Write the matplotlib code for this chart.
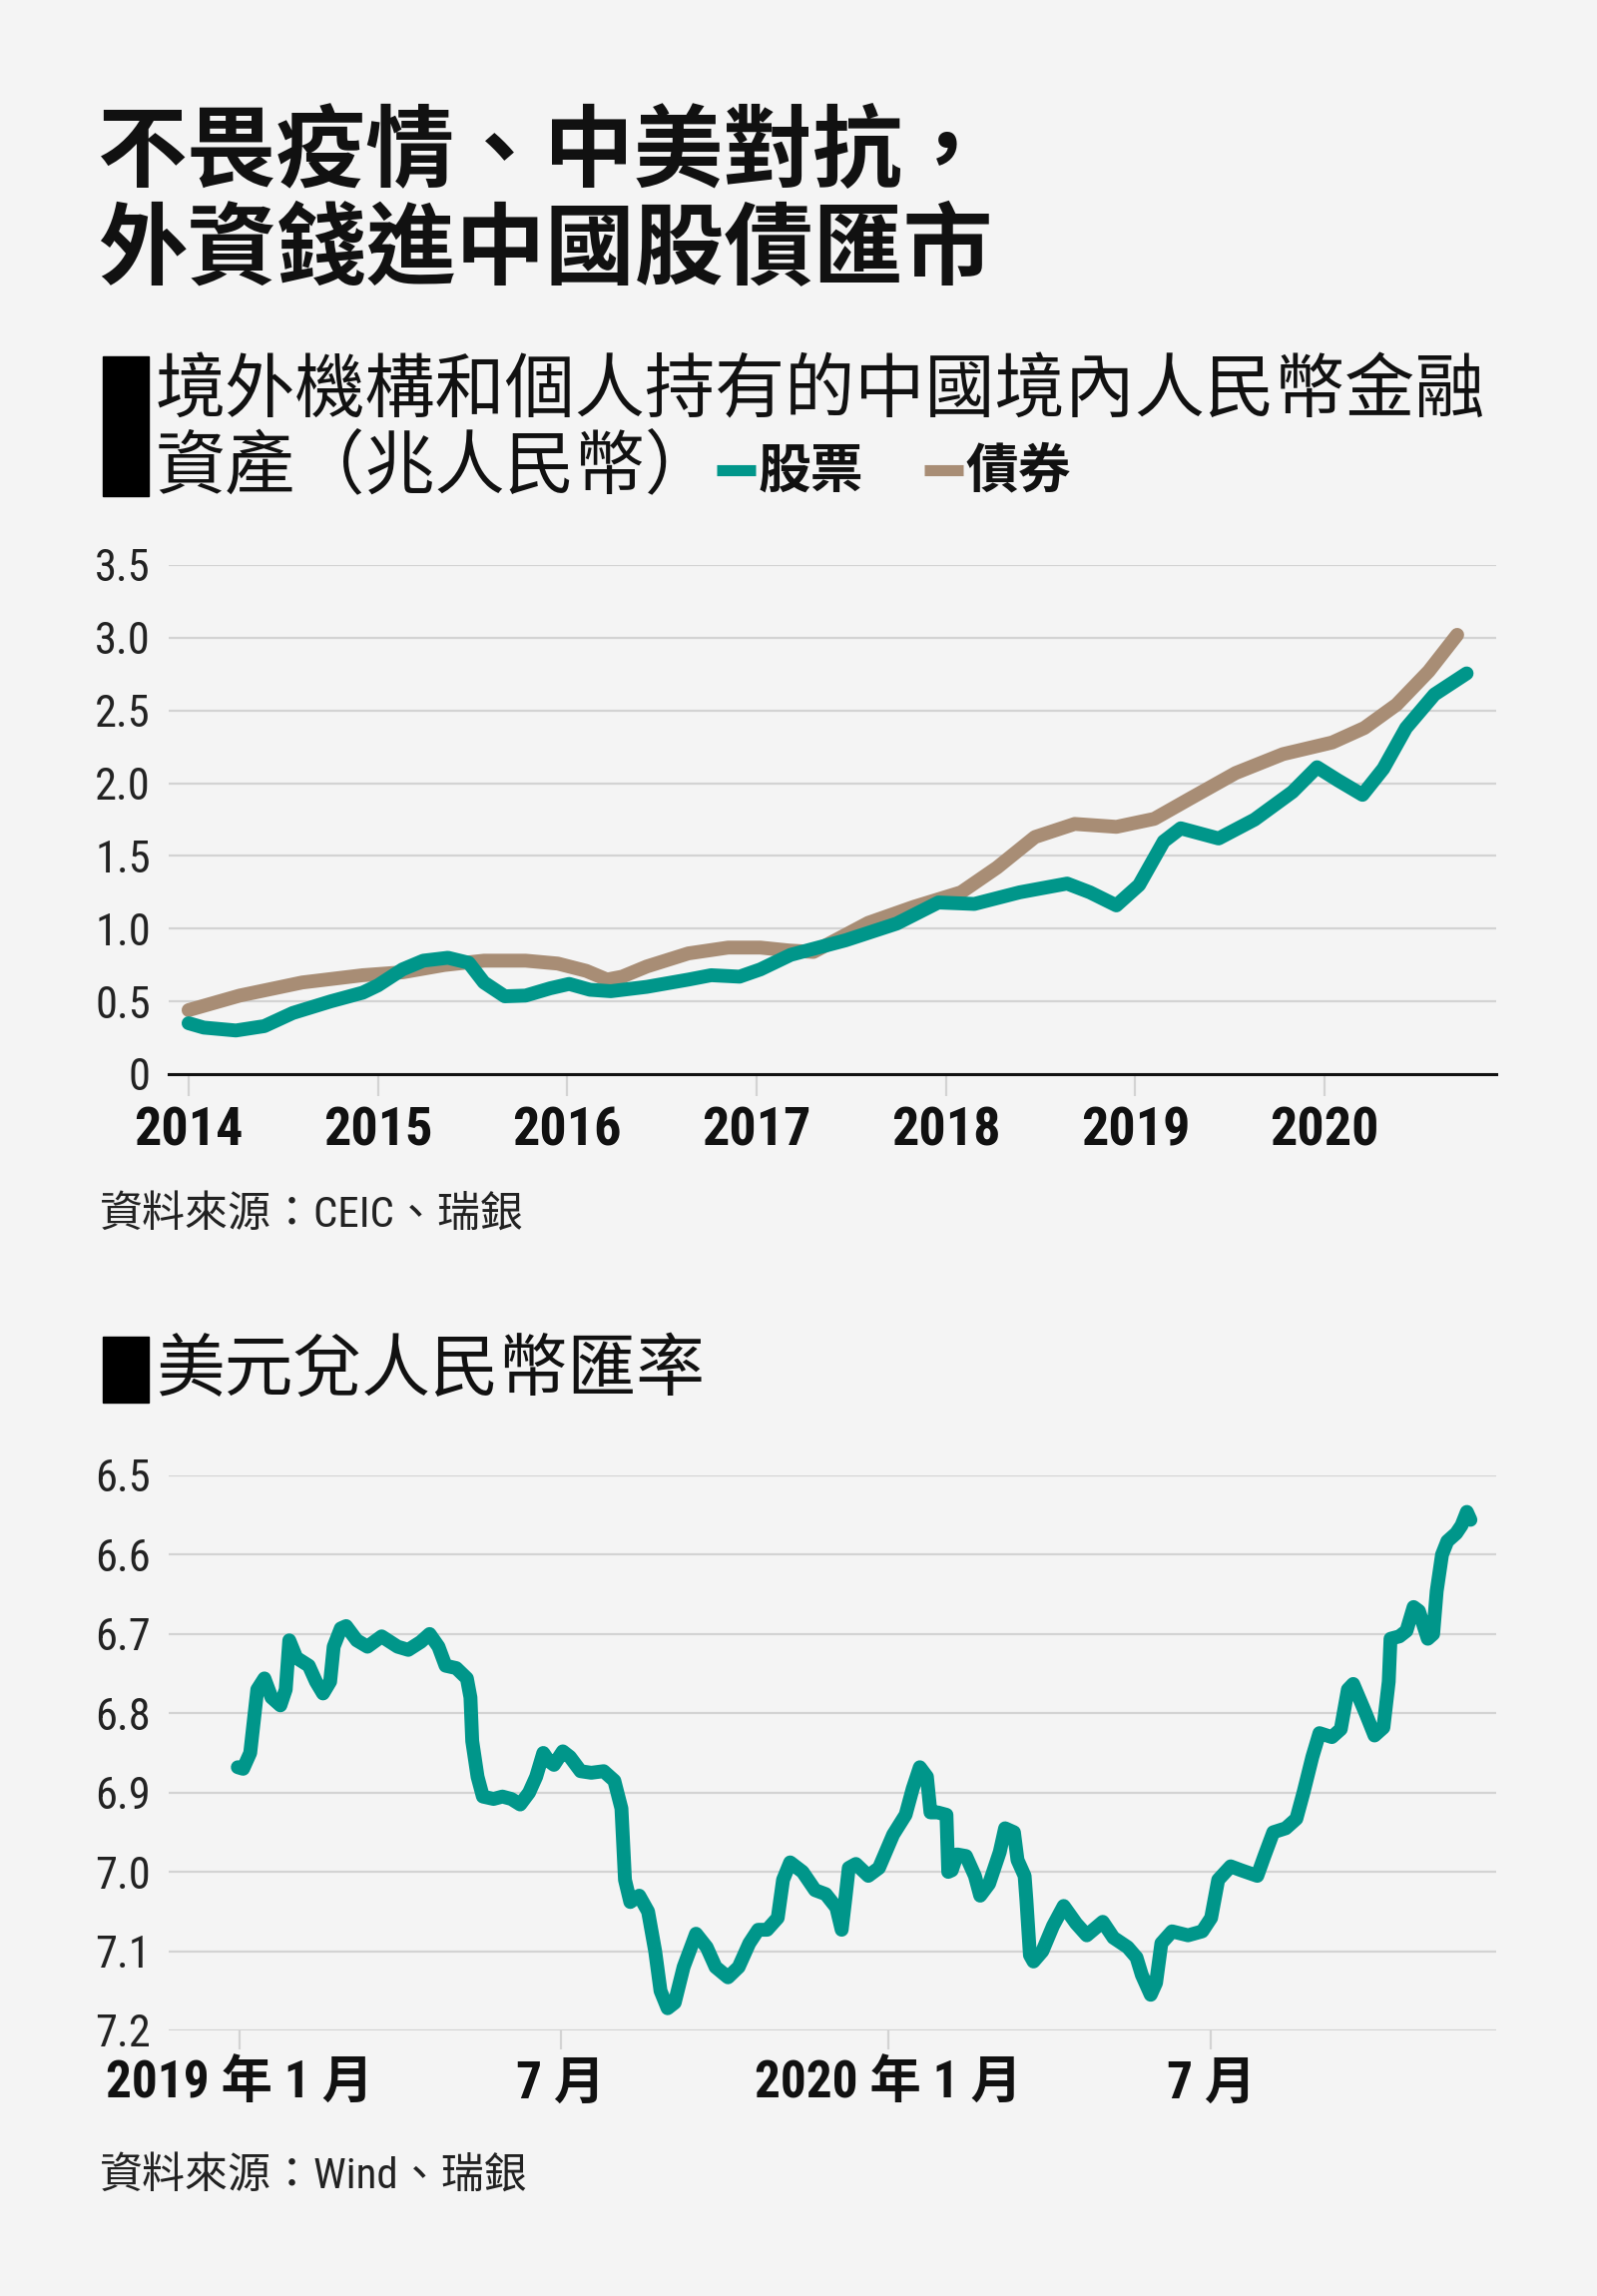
import numpy as np
import pandas as pd
import matplotlib
matplotlib.use('Agg')
import matplotlib.pyplot as plt
from matplotlib import font_manager as fm
from matplotlib.lines import Line2D
from matplotlib.patches import Rectangle

# ---------------- data ----------------
# Chart 1: foreign holdings of onshore RMB financial assets (trillion RMB)
stock_t = [2014.00, 2014.08, 2014.25, 2014.40, 2014.55, 2014.75, 2014.92, 2015.00, 2015.13,
           2015.24, 2015.37, 2015.48, 2015.56, 2015.67, 2015.78, 2015.91, 2016.01, 2016.12,
           2016.23, 2016.42, 2016.64, 2016.76, 2016.91, 2017.02, 2017.18, 2017.47, 2017.74,
           2017.96, 2018.15, 2018.39, 2018.64, 2018.76, 2018.90, 2019.02, 2019.15, 2019.24,
           2019.44, 2019.63, 2019.83, 2019.96, 2020.07, 2020.20, 2020.31, 2020.43, 2020.58,
           2020.75]
stock_v = [0.35, 0.32, 0.30, 0.33, 0.42, 0.50, 0.56, 0.61, 0.72,
           0.78, 0.80, 0.765, 0.63, 0.535, 0.54, 0.59, 0.62, 0.58,
           0.57, 0.60, 0.65, 0.68, 0.67, 0.72, 0.82, 0.92, 1.035,
           1.18, 1.17, 1.25, 1.31, 1.25, 1.16, 1.30, 1.60, 1.69,
           1.62, 1.75, 1.94, 2.11, 2.02, 1.92, 2.10, 2.38, 2.61,
           2.755]
bond_t = [2014.00, 2014.27, 2014.60, 2014.92, 2015.13, 2015.35, 2015.56, 2015.78, 2015.95,
          2016.10, 2016.21, 2016.29, 2016.42, 2016.64, 2016.85, 2017.02, 2017.17, 2017.30,
          2017.59, 2017.83, 2018.08, 2018.27, 2018.47, 2018.68, 2018.90, 2019.10, 2019.29,
          2019.53, 2019.78, 2020.04, 2020.21, 2020.38, 2020.55, 2020.70]
bond_v = [0.44, 0.54, 0.63, 0.68, 0.70, 0.75, 0.78, 0.78, 0.76,
          0.71, 0.65, 0.67, 0.74, 0.83, 0.87, 0.87, 0.85, 0.84,
          1.04, 1.15, 1.25, 1.42, 1.63, 1.72, 1.70, 1.755, 1.895,
          2.07, 2.20, 2.28, 2.38, 2.54, 2.77, 3.02]
year_ticks = [2014, 2015, 2016, 2017, 2018, 2019, 2020]
year_labels = ['2014', '2015', '2016', '2017', '2018', '2019', '2020']
y1_ticks = [0, 0.5, 1.0, 1.5, 2.0, 2.5, 3.0, 3.5]
y1_labels = ['0', '0.5', '1.0', '1.5', '2.0', '2.5', '3.0', '3.5']

# Chart 2: USD/CNY, x = days since 2019-01-01
fx_days = [-1, 2, 6, 10, 14, 18, 23, 26, 28, 32, 39, 43, 47, 51, 53, 57, 60, 66, 72, 80,
           89, 95, 102, 107, 112, 116, 122, 128, 130, 131, 134, 137, 143, 148, 153, 158,
           163, 167, 171, 174, 177, 182, 186, 192, 198, 205, 211, 215, 217, 220, 225, 230,
           234, 237, 241, 245, 250, 257, 263, 268, 275, 281, 287, 292, 297, 303, 306, 310,
           317, 324, 330, 336, 339, 341, 343, 347, 354, 360, 368, 375, 379, 383, 387, 389,
           393, 398, 399, 401, 404, 409, 414, 417, 422, 428, 431, 436, 438, 442, 443, 445,
           447, 452, 458, 464, 471, 477, 486, 492, 500, 505, 508, 513, 516, 519, 525, 534,
           542, 547, 551, 558, 564, 573, 577, 582, 589, 595, 599, 604, 608, 615, 620, 624,
           627, 634, 639, 644, 647, 648, 653, 657, 661, 664, 669, 672, 674, 677, 680, 685,
           688, 691, 693]
fx_vals = [6.868, 6.870, 6.850, 6.770, 6.756, 6.780, 6.790, 6.770, 6.708, 6.730, 6.740,
           6.760, 6.775, 6.760, 6.716, 6.693, 6.690, 6.708, 6.716, 6.703, 6.716, 6.720,
           6.710, 6.700, 6.716, 6.740, 6.743, 6.756, 6.780, 6.835, 6.880, 6.905, 6.908,
           6.905, 6.908, 6.915, 6.900, 6.880, 6.850, 6.860, 6.865, 6.848, 6.855, 6.873,
           6.875, 6.873, 6.885, 6.920, 7.010, 7.038, 7.030, 7.050, 7.100, 7.150, 7.172,
           7.165, 7.120, 7.078, 7.095, 7.120, 7.133, 7.120, 7.090, 7.073, 7.073, 7.058,
           7.010, 6.988, 7.000, 7.023, 7.028, 7.045, 7.073, 7.035, 6.995, 6.990, 7.005,
           6.995, 6.953, 6.928, 6.895, 6.868, 6.880, 6.925, 6.925, 6.928, 7.000, 6.998,
           6.978, 6.980, 7.005, 7.030, 7.015, 6.975, 6.945, 6.950, 6.985, 7.005, 7.035,
           7.105, 7.113, 7.100, 7.068, 7.043, 7.065, 7.080, 7.063, 7.083, 7.095, 7.108,
           7.130, 7.155, 7.140, 7.090, 7.075, 7.080, 7.075, 7.058, 7.010, 6.993, 6.998,
           7.005, 6.980, 6.950, 6.945, 6.933, 6.900, 6.855, 6.825, 6.830, 6.820, 6.770,
           6.763, 6.800, 6.828, 6.818, 6.760, 6.706, 6.703, 6.696, 6.666, 6.671, 6.706,
           6.700, 6.646, 6.600, 6.583, 6.573, 6.563, 6.546, 6.556]
fx_tick_dates = ['2019-01-01', '2019-07-01', '2020-01-01', '2020-07-01']
fx_tick_labels = ['2019 年 1 月', '7 月', '2020 年 1 月', '7 月']
y2_ticks = [6.5, 6.6, 6.7, 6.8, 6.9, 7.0, 7.1, 7.2]
y2_labels = ['6.5', '6.6', '6.7', '6.8', '6.9', '7.0', '7.1', '7.2']

# ---------------- style ----------------
names = {f.name for f in fm.fontManager.ttflist}
NARROW = next((n for n in ['Roboto Condensed', 'Liberation Sans Narrow', 'Open Sans Condensed']
               if n in names), 'DejaVu Sans')
CJK = 'Noto Sans CJK TC'
plt.rcParams['font.family'] = [NARROW, CJK, 'DejaVu Sans']

BG = '#f4f4f4'
TEAL = '#00968a'
TAN = '#a88d75'
GRID = '#d3d3d3'
INK = '#111111'
LW = 10

W, H = 1600, 2300
fig = plt.figure(figsize=(16, 23), dpi=100, facecolor=BG)


def fx(x):
    return x / W


def fy(y):
    return 1 - y / H


# ---------------- headings ----------------
fig.text(fx(98), fy(153), '不畏疫情、中美對抗，', fontsize=64.5, fontweight='bold',
         family=[CJK], va='center', ha='left', color=INK)
fig.text(fx(98), fy(251), '外資錢進中國股債匯市', fontsize=64.5, fontweight='bold',
         family=[CJK], va='center', ha='left', color=INK)

fig.add_artist(Rectangle((fx(103), fy(497)), (149 - 103) / W, (497 - 357) / H,
                         transform=fig.transFigure, color='black'))
fig.text(fx(156), fy(393), '境外機構和個人持有的中國境內人民幣金融', fontsize=50.5,
         family=[CJK], va='center', ha='left', color=INK)
fig.text(fx(156), fy(469), '資產（兆人民幣）', fontsize=50.5,
         family=[CJK], va='center', ha='left', color=INK)

fig.add_artist(Line2D([fx(718), fx(757)], [fy(471), fy(471)], color=TEAL, lw=8,
                      solid_capstyle='butt', transform=fig.transFigure))
fig.text(fx(760), fy(472), '股票', fontsize=38, fontweight='bold', family=[CJK],
         va='center', ha='left', color=INK)
fig.add_artist(Line2D([fx(926), fx(965)], [fy(471), fy(471)], color=TAN, lw=8,
                      solid_capstyle='butt', transform=fig.transFigure))
fig.text(fx(968), fy(472), '債券', fontsize=38, fontweight='bold', family=[CJK],
         va='center', ha='left', color=INK)

# ---------------- chart 1 ----------------
ax1 = fig.add_axes([fx(169), fy(1076), (1499 - 169) / W, (1076 - 566) / H])
ax1.set_facecolor('none')
ax1.plot(bond_t, bond_v, color=TAN, lw=LW, solid_capstyle='round', solid_joinstyle='round', zorder=3)
ax1.plot(stock_t, stock_v, color=TEAL, lw=LW, solid_capstyle='round', solid_joinstyle='round', zorder=4)
ax1.set_xlim(2013.895, 2020.906)
ax1.set_ylim(0, 3.5)
ax1.set_yticks(y1_ticks)
ax1.set_yticklabels(y1_labels)
ax1.set_xticks(year_ticks)
ax1.set_xticklabels(year_labels, fontweight='bold')
for s in ax1.spines.values():
    s.set_visible(False)
ax1.grid(axis='y', color=GRID, lw=1.6, zorder=1)
ax1.set_axisbelow(True)
ax1.axhline(0, color=INK, lw=2.2, zorder=2, clip_on=False)
ax1.tick_params(axis='y', length=0, pad=13, labelsize=32, labelcolor='#222222')
ax1.tick_params(axis='x', length=16, width=1.6, color=GRID, pad=7, labelsize=39,
                labelcolor=INK)

fig.text(fx(100), fy(1217), '資料來源：CEIC、瑞銀', fontsize=31, va='center', ha='left',
         color='#222222')

# ---------------- chart 2 ----------------
fig.add_artist(Rectangle((fx(103), fy(1405)), (149 - 103) / W, (1405 - 1339) / H,
                         transform=fig.transFigure, color='black'))
fig.text(fx(156), fy(1374), '美元兌人民幣匯率', fontsize=49.5, family=[CJK],
         va='center', ha='left', color=INK)

base = pd.Timestamp('2019-01-01')
fx_dates = base + pd.to_timedelta(fx_days, unit='D')

ax2 = fig.add_axes([fx(169), fy(2034), (1499 - 169) / W, (2034 - 1478) / H])
ax2.set_facecolor('none')
ax2.plot(fx_dates, fx_vals, color=TEAL, lw=LW, solid_capstyle='round',
         solid_joinstyle='round', zorder=3)
ax2.set_xlim(base + pd.Timedelta(days=-39.9), base + pd.Timedelta(days=707.5))
ax2.set_ylim(7.2, 6.5)
ax2.set_yticks(y2_ticks)
ax2.set_yticklabels(y2_labels)
ax2.set_xticks(pd.to_datetime(fx_tick_dates))
ax2.set_xticklabels(fx_tick_labels, fontweight='bold')
for s in ax2.spines.values():
    s.set_visible(False)
ax2.grid(axis='y', color=GRID, lw=1.6, zorder=1)
ax2.grid(axis='x', visible=False)
ax2.set_axisbelow(True)
ax2.tick_params(axis='y', length=0, pad=13, labelsize=32, labelcolor='#222222')
ax2.tick_params(axis='x', length=14, width=1.6, color=GRID, pad=7, labelsize=37,
                labelcolor=INK)

fig.text(fx(100), fy(2180), '資料來源：Wind、瑞銀', fontsize=31, va='center', ha='left',
         color='#222222')

fig.savefig('out.png', dpi=100, facecolor=BG)
